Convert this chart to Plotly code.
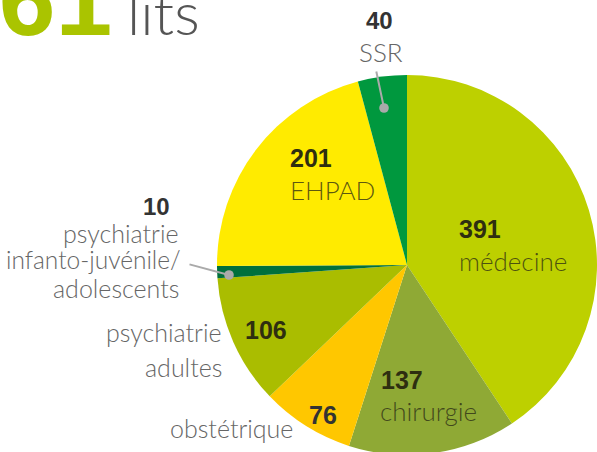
import plotly.graph_objects as go

# ---- data ----
categories = ["médecine", "chirurgie", "obstétrique", "psychiatrie adultes",
              "psychiatrie infanto-juvénile/adolescents", "EHPAD", "SSR"]
values = [391, 137, 76, 106, 10, 201, 40]
colors = ["#BDD000", "#8FA935", "#FFC700", "#AABD00", "#00703C", "#FFEB00", "#00983E"]
total_label = "961"
unit_label = "lits"

W, H = 597, 460

def px(x):
    return x / W

def py(y):
    return 1 - y / H

fig = go.Figure()
fig.add_trace(go.Pie(
    labels=categories, values=values, sort=False, direction="clockwise", rotation=0,
    marker=dict(colors=colors, line=dict(width=0)),
    textinfo="none", hoverinfo="label+value", showlegend=False,
    domain=dict(x=[px(217), 1.0], y=[py(455), py(75)]),
))

NAME_FONT = "Lato"
NUM_FONT = "Liberation Sans"
ann = []

def txt(text, x, y, xanchor, size, color, bold=False, weight=None, family=None):
    ann.append(dict(
        text=text, x=px(x), y=py(y), xref="paper", yref="paper",
        xanchor=xanchor, yanchor="middle", showarrow=False,
        font=dict(family=family or (NUM_FONT if bold else NAME_FONT), size=size,
                  color=color, weight=weight if weight else ("bold" if bold else 300)),
    ))

def leader(x0, y0, x1, y1):
    ann.append(dict(
        text="", x=px(x1), y=py(y1), ax=x0 - x1, ay=y0 - y1,
        xref="paper", yref="paper", axref="pixel", ayref="pixel",
        showarrow=True, arrowhead=6, arrowsize=1.2, arrowwidth=2,
        arrowcolor="#AAAAAA",
    ))

# title
txt(total_label, 114, 0, "right", 102, "#AAC400", bold=True)
txt(unit_label, 125, 12, "left", 60, "#555555", weight=300)

NUM_IN = "#2E2E10"
NAME_IN = "rgba(40,40,20,0.75)"
NUM_OUT = "#333333"
NAME_OUT = "#666666"

# values / labels
vals = {c: v for c, v in zip(categories, values)}
txt(str(vals["SSR"]), 379, 21, "center", 24, NUM_OUT, bold=True)
txt("SSR", 381, 52, "center", 26, NAME_OUT)
leader(376, 70, 384, 108)

txt(str(vals["EHPAD"]), 288, 158, "left", 25, NUM_IN, bold=True)
txt("EHPAD", 288, 190, "left", 26, NAME_IN)

txt(str(vals["médecine"]), 457, 229, "left", 25, NUM_IN, bold=True)
txt("médecine", 457, 261, "left", 26, NAME_IN)

txt(str(vals["psychiatrie adultes"]), 243, 330, "left", 25, NUM_IN, bold=True)

txt(str(vals["chirurgie"]), 379, 380, "left", 25, NUM_IN, bold=True)
txt("chirurgie", 378, 411, "left", 26, NAME_IN)

txt(str(vals["obstétrique"]), 307, 415, "left", 25, NUM_OUT, bold=True)

txt(str(vals["psychiatrie infanto-juvénile/adolescents"]), 172, 207, "right", 24, NUM_OUT, bold=True)
txt("psychiatrie", 181, 233, "right", 25, NAME_OUT)
txt("infanto-juvénile/", 183, 259, "right", 24.5, NAME_OUT)
txt("adolescents", 181, 288, "right", 25, NAME_OUT)
leader(188, 264, 229, 275)

txt("psychiatrie", 224, 332, "right", 25, NAME_OUT)
txt("adultes", 224, 367, "right", 25, NAME_OUT)

txt("obstétrique", 295, 428, "right", 25, NAME_OUT)

fig.update_layout(
    width=W, height=H, margin=dict(l=0, r=0, t=0, b=0),
    paper_bgcolor="white", plot_bgcolor="white",
    annotations=ann,
)

fig.write_html("out.html", config={"displayModeBar": False},
               post_script="document.body.style.margin='0';document.body.style.overflow='hidden';document.documentElement.style.overflow='hidden';")
